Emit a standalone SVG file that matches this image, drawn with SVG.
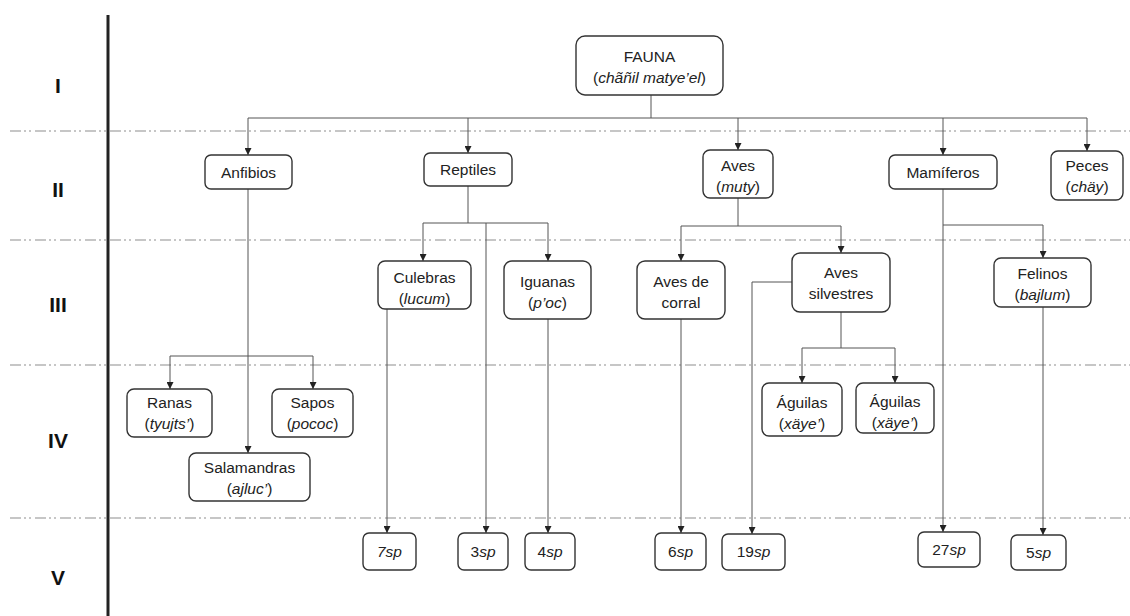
<svg xmlns="http://www.w3.org/2000/svg" width="1130" height="616" viewBox="0 0 1130 616">
<style>
  .bg{fill:#ffffff}
  .box{fill:#ffffff;stroke:#333333;stroke-width:1.4}
  .t{font-family:"Liberation Sans",Arial,sans-serif;font-size:15.5px;fill:#222222;text-anchor:middle}
  .i{font-style:italic}
  .lvl{font-family:"Liberation Sans",Arial,sans-serif;font-size:21px;font-weight:bold;fill:#111111;text-anchor:middle}
  .sep{stroke:#b4b4b4;stroke-width:1.5;stroke-dasharray:11 3 2 3 2 4;fill:none}
  .axis{stroke:#222222;stroke-width:3;fill:none}
  .c{stroke:#555555;stroke-width:1;fill:none}
  .a{stroke:#555555;stroke-width:1;fill:none;marker-end:url(#arr)}
</style>
<defs>
  <marker id="arr" viewBox="0 0 10 10" refX="10" refY="5" markerWidth="7" markerHeight="7" markerUnits="userSpaceOnUse" orient="auto">
    <path d="M0,0 L10,5 L0,10 z" fill="#222222"/>
  </marker>
</defs>
<rect class="bg" x="0" y="0" width="1130" height="616"/>

<g id="levels">
  <line class="sep" x1="10" y1="131" x2="1130" y2="131"/>
  <line class="sep" x1="10" y1="240" x2="1130" y2="240"/>
  <line class="sep" x1="10" y1="365" x2="1130" y2="365"/>
  <line class="sep" x1="10" y1="518" x2="1130" y2="518"/>
  <line class="axis" x1="108" y1="15" x2="108" y2="616"/>
  <text class="lvl" x="58" y="93">I</text>
  <text class="lvl" x="58" y="197">II</text>
  <text class="lvl" x="58" y="312">III</text>
  <text class="lvl" x="58" y="448">IV</text>
  <text class="lvl" x="58" y="585">V</text>
</g>

<g id="connectors">
  <path class="c" d="M651,95 V118 M248,118 H1087"/>
  <path class="a" d="M248,118 V155"/>
  <path class="a" d="M468,118 V153"/>
  <path class="a" d="M738,118 V150"/>
  <path class="a" d="M943,118 V155"/>
  <path class="a" d="M1087,118 V151"/>
  <path class="a" d="M248,189 V453"/>
  <path class="c" d="M170,356 H313"/>
  <path class="a" d="M170,356 V389"/>
  <path class="a" d="M313,356 V389"/>
  <path class="c" d="M468,186 V223 M423,223 H548"/>
  <path class="a" d="M423,223 V261"/>
  <path class="a" d="M548,223 V261"/>
  <path class="a" d="M486,223 V533"/>
  <path class="a" d="M387,309 V533"/>
  <path class="a" d="M548,319 V533"/>
  <path class="c" d="M738,198 V226 M681,226 H841"/>
  <path class="a" d="M681,226 V261"/>
  <path class="a" d="M841,226 V253"/>
  <path class="a" d="M681,319 V533"/>
  <path class="a" d="M792,282 H752 V534"/>
  <path class="c" d="M841,312 V348 M802,348 H895"/>
  <path class="a" d="M802,348 V383"/>
  <path class="a" d="M895,348 V383"/>
  <path class="a" d="M943,189 V532"/>
  <path class="a" d="M943,225 H1043 V258"/>
  <path class="a" d="M1043,307 V535"/>
</g>

<g id="fauna">
  <rect class="box" x="576" y="36" width="147" height="59" rx="9"/>
  <text class="t" x="649.5" y="62">FAUNA</text>
  <text class="t" x="649.5" y="83">(<tspan class="i">chãñil matye’el</tspan>)</text>
</g>
<g id="anfibios">
  <rect class="box" x="205" y="155" width="87" height="34" rx="6"/>
  <text class="t" x="248.5" y="178">Anfibios</text>
</g>
<g id="reptiles">
  <rect class="box" x="424" y="153" width="88" height="33" rx="6"/>
  <text class="t" x="468" y="175">Reptiles</text>
</g>
<g id="aves">
  <rect class="box" x="703" y="150" width="70" height="48" rx="7"/>
  <text class="t" x="738" y="171">Aves</text>
  <text class="t" x="738" y="192">(<tspan class="i">muty</tspan>)</text>
</g>
<g id="mamiferos">
  <rect class="box" x="889" y="155" width="108" height="34" rx="6"/>
  <text class="t" x="943" y="178">Mamíferos</text>
</g>
<g id="peces">
  <rect class="box" x="1051" y="151" width="72" height="49" rx="7"/>
  <text class="t" x="1087" y="171">Peces</text>
  <text class="t" x="1087" y="192">(<tspan class="i">chäy</tspan>)</text>
</g>
<g id="culebras">
  <rect class="box" x="378" y="261" width="93" height="48" rx="7"/>
  <text class="t" x="424.5" y="283">Culebras</text>
  <text class="t" x="424.5" y="304">(<tspan class="i">lucum</tspan>)</text>
</g>
<g id="iguanas">
  <rect class="box" x="504" y="261" width="87" height="58" rx="8"/>
  <text class="t" x="547.5" y="287">Iguanas</text>
  <text class="t" x="547.5" y="308">(<tspan class="i">p’oc</tspan>)</text>
</g>
<g id="aves-corral">
  <rect class="box" x="637" y="261" width="88" height="58" rx="8"/>
  <text class="t" x="681" y="287">Aves de</text>
  <text class="t" x="681" y="308">corral</text>
</g>
<g id="aves-silvestres">
  <rect class="box" x="792" y="253" width="98" height="59" rx="8"/>
  <text class="t" x="841" y="278">Aves</text>
  <text class="t" x="841" y="299">silvestres</text>
</g>
<g id="felinos">
  <rect class="box" x="994" y="258" width="97" height="49" rx="7"/>
  <text class="t" x="1042.5" y="279">Felinos</text>
  <text class="t" x="1042.5" y="300">(<tspan class="i">bajlum</tspan>)</text>
</g>
<g id="ranas">
  <rect class="box" x="127" y="389" width="85" height="48" rx="7"/>
  <text class="t" x="169.5" y="408">Ranas</text>
  <text class="t" x="169.5" y="429">(<tspan class="i">tyujts’</tspan>)</text>
</g>
<g id="sapos">
  <rect class="box" x="272" y="389" width="81" height="48" rx="7"/>
  <text class="t" x="312.5" y="408">Sapos</text>
  <text class="t" x="312.5" y="429">(<tspan class="i">pococ</tspan>)</text>
</g>
<g id="salamandras">
  <rect class="box" x="189" y="453" width="121" height="48" rx="7"/>
  <text class="t" x="249.5" y="473">Salamandras</text>
  <text class="t" x="249.5" y="494">(<tspan class="i">ajluc’</tspan>)</text>
</g>
<g id="aguilas1">
  <rect class="box" x="762" y="383" width="80" height="53" rx="7"/>
  <text class="t" x="802" y="408">Águilas</text>
  <text class="t" x="802" y="429">(<tspan class="i">xäye’</tspan>)</text>
</g>
<g id="aguilas2">
  <rect class="box" x="856" y="383" width="78" height="50" rx="7"/>
  <text class="t" x="895" y="407">Águilas</text>
  <text class="t" x="895" y="428">(<tspan class="i">xäye’</tspan>)</text>
</g>
<g id="sp7">
  <rect class="box" x="363" y="533" width="53" height="37" rx="6"/>
  <text class="t" x="389.5" y="557"><tspan class="i">7sp</tspan></text>
</g>
<g id="sp3">
  <rect class="box" x="458" y="533" width="50" height="37" rx="6"/>
  <text class="t" x="483" y="557">3<tspan class="i">sp</tspan></text>
</g>
<g id="sp4">
  <rect class="box" x="525" y="533" width="50" height="37" rx="6"/>
  <text class="t" x="550" y="557">4<tspan class="i">sp</tspan></text>
</g>
<g id="sp6">
  <rect class="box" x="655" y="533" width="51" height="37" rx="6"/>
  <text class="t" x="680.5" y="557">6<tspan class="i">sp</tspan></text>
</g>
<g id="sp19">
  <rect class="box" x="722" y="534" width="63" height="36" rx="6"/>
  <text class="t" x="753.5" y="557">19<tspan class="i">sp</tspan></text>
</g>
<g id="sp27">
  <rect class="box" x="918" y="532" width="62" height="35" rx="6"/>
  <text class="t" x="949" y="555">27<tspan class="i">sp</tspan></text>
</g>
<g id="sp5">
  <rect class="box" x="1011" y="535" width="55" height="35" rx="6"/>
  <text class="t" x="1038.5" y="558">5<tspan class="i">sp</tspan></text>
</g>
</svg>
